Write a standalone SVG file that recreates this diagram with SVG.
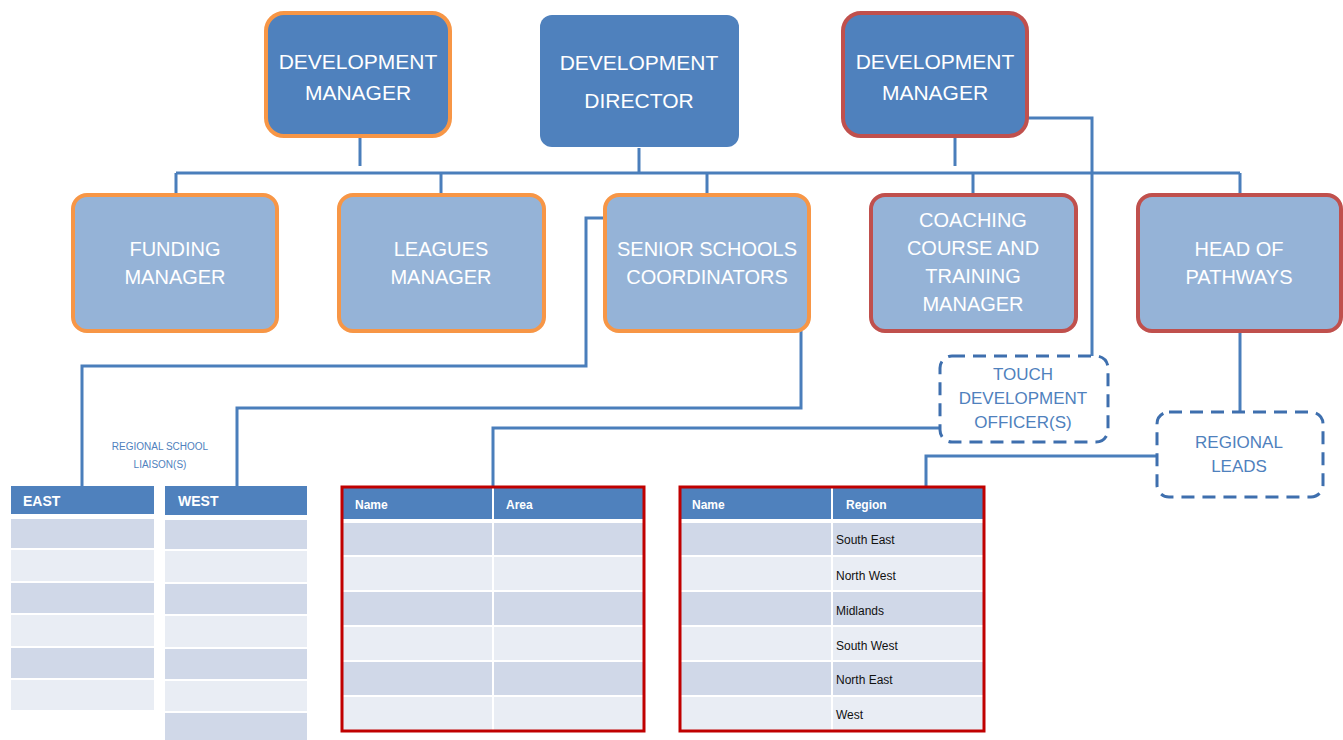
<svg xmlns="http://www.w3.org/2000/svg" width="1343" height="740" viewBox="0 0 1343 740">
<style>
.top{fill:#4f81bd}
.mid{fill:#95b3d7}
.ob{stroke:#f79646;stroke-width:4}
.rb{stroke:#c0504d;stroke-width:4}
.wt{fill:#fff;font-family:"Liberation Sans",Arial,sans-serif;text-anchor:middle}
.t1{font-size:21px}
.t2{font-size:20px}
.dash{fill:#fff;stroke:#3e6fae;stroke-width:3;stroke-dasharray:13 8}
.bt{fill:#4f81bd;font-family:"Liberation Sans",Arial,sans-serif;text-anchor:middle;font-size:17px}
.conn{fill:none;stroke:#4a7ebb;stroke-width:3}
.hd{fill:#4f81bd}
.rd{fill:#d0d8e8}
.rl{fill:#e9edf4}
.ht{fill:#fff;font-family:"Liberation Sans",Arial,sans-serif;font-weight:bold;font-size:12px}
.ht2{fill:#fff;font-family:"Liberation Sans",Arial,sans-serif;font-weight:bold;font-size:14px}
.ct{fill:#111;font-family:"Liberation Sans",Arial,sans-serif;font-size:12px}
.frame{fill:none;stroke:#c00000;stroke-width:3}
</style>
<g id="connectors" class="conn">
<path d="M176 173H1240"/>
<path d="M360 138V166"/>
<path d="M639 148V173"/>
<path d="M955 138V166"/>
<path d="M176 173V195M441 173V195M707 173V195M973 173V195M1240 173V195"/>
<path d="M1027 118H1092V356"/>
<path d="M605 218H586V366H82V486"/>
<path d="M801 331V408H237V486"/>
<path d="M940 428H493V487"/>
<path d="M1240 331V412"/>
<path d="M1157 456H926V487"/>
</g>
<g id="dev-manager-left">
<rect x="266" y="13" width="184" height="123" rx="18" class="top ob"/>
<text class="wt t1" x="358" y="69">DEVELOPMENT</text>
<text class="wt t1" x="358" y="100">MANAGER</text>
</g>
<g id="dev-director">
<rect x="540" y="15" width="199" height="132" rx="12" class="top"/>
<text class="wt t1" x="639" y="70">DEVELOPMENT</text>
<text class="wt t1" x="639" y="108">DIRECTOR</text>
</g>
<g id="dev-manager-right">
<rect x="843" y="13" width="184" height="123" rx="18" class="top rb"/>
<text class="wt t1" x="935" y="69">DEVELOPMENT</text>
<text class="wt t1" x="935" y="100">MANAGER</text>
</g>
<g id="funding-manager">
<rect x="73" y="195" width="204" height="136" rx="14" class="mid ob"/>
<text class="wt t2" x="175" y="256">FUNDING</text>
<text class="wt t2" x="175" y="284">MANAGER</text>
</g>
<g id="leagues-manager">
<rect x="339" y="195" width="205" height="136" rx="14" class="mid ob"/>
<text class="wt t2" x="441" y="256">LEAGUES</text>
<text class="wt t2" x="441" y="284">MANAGER</text>
</g>
<g id="senior-schools">
<rect x="605" y="195" width="204" height="136" rx="14" class="mid ob"/>
<text class="wt t2" x="707" y="256">SENIOR SCHOOLS</text>
<text class="wt t2" x="707" y="284">COORDINATORS</text>
</g>
<g id="coaching">
<rect x="871" y="195" width="205" height="136" rx="14" class="mid rb"/>
<text class="wt t2" x="973" y="227">COACHING</text>
<text class="wt t2" x="973" y="255">COURSE AND</text>
<text class="wt t2" x="973" y="283">TRAINING</text>
<text class="wt t2" x="973" y="311">MANAGER</text>
</g>
<g id="head-of-pathways">
<rect x="1138" y="195" width="203" height="136" rx="14" class="mid rb"/>
<text class="wt t2" x="1239" y="256">HEAD OF</text>
<text class="wt t2" x="1239" y="284">PATHWAYS</text>
</g>
<g id="touch-officers">
<rect x="940" y="356" width="168" height="86" rx="12" class="dash"/>
<text class="bt" x="1023" y="380">TOUCH</text>
<text class="bt" x="1023" y="404">DEVELOPMENT</text>
<text class="bt" x="1023" y="428">OFFICER(S)</text>
</g>
<g id="regional-leads">
<rect x="1157" y="412" width="166" height="85" rx="12" class="dash"/>
<text class="bt" x="1239" y="448">REGIONAL</text>
<text class="bt" x="1239" y="472">LEADS</text>
</g>
<g id="regional-school-liaison">
<text x="160" y="450" font-family="'Liberation Sans',Arial,sans-serif" font-size="10" fill="#4f81bd" text-anchor="middle">REGIONAL SCHOOL</text>
<text x="160" y="468" font-family="'Liberation Sans',Arial,sans-serif" font-size="10" fill="#4f81bd" text-anchor="middle">LIAISON(S)</text>
</g>
<g id="east-table">
<rect x="11" y="486" width="143" height="28" class="hd"/>
<text class="ht2" x="23" y="506">EAST</text>
<rect x="11" y="519" width="143" height="29" class="rd"/>
<rect x="11" y="550" width="143" height="31" class="rl"/>
<rect x="11" y="583" width="143" height="30" class="rd"/>
<rect x="11" y="615" width="143" height="31" class="rl"/>
<rect x="11" y="648" width="143" height="30" class="rd"/>
<rect x="11" y="680" width="143" height="30" class="rl"/>
</g>
<g id="west-table">
<rect x="165" y="486" width="142" height="29" class="hd"/>
<text class="ht2" x="178" y="506">WEST</text>
<rect x="165" y="520" width="142" height="29" class="rd"/>
<rect x="165" y="551" width="142" height="31" class="rl"/>
<rect x="165" y="584" width="142" height="30" class="rd"/>
<rect x="165" y="616" width="142" height="31" class="rl"/>
<rect x="165" y="649" width="142" height="30" class="rd"/>
<rect x="165" y="681" width="142" height="30" class="rl"/>
<rect x="165" y="713" width="142" height="27" class="rd"/>
</g>
<g id="area-table">
<rect x="342" y="488" width="302" height="242" fill="#fff"/>
<rect x="342" y="488" width="302" height="31" class="hd"/>
<rect x="342" y="523" width="302" height="32" class="rd"/>
<rect x="342" y="557" width="302" height="33" class="rl"/>
<rect x="342" y="592" width="302" height="33" class="rd"/>
<rect x="342" y="627" width="302" height="33" class="rl"/>
<rect x="342" y="662" width="302" height="33" class="rd"/>
<rect x="342" y="697" width="302" height="33" class="rl"/>
<path d="M493 488V730" stroke="#fff" stroke-width="2"/>
<text class="ht" x="355" y="509">Name</text>
<text class="ht" x="506" y="509">Area</text>
<rect x="342" y="487" width="302" height="244" class="frame"/>
</g>
<g id="region-table">
<rect x="680" y="488" width="304" height="242" fill="#fff"/>
<rect x="680" y="488" width="304" height="31" class="hd"/>
<rect x="680" y="523" width="304" height="32" class="rd"/>
<rect x="680" y="557" width="304" height="33" class="rl"/>
<rect x="680" y="592" width="304" height="33" class="rd"/>
<rect x="680" y="627" width="304" height="33" class="rl"/>
<rect x="680" y="662" width="304" height="33" class="rd"/>
<rect x="680" y="697" width="304" height="33" class="rl"/>
<path d="M832 488V730" stroke="#fff" stroke-width="2"/>
<text class="ht" x="692" y="509">Name</text>
<text class="ht" x="846" y="509">Region</text>
<text class="ct" x="836" y="544">South East</text>
<text class="ct" x="836" y="580">North West</text>
<text class="ct" x="836" y="615">Midlands</text>
<text class="ct" x="836" y="650">South West</text>
<text class="ct" x="836" y="684">North East</text>
<text class="ct" x="836" y="719">West</text>
<rect x="680" y="487" width="304" height="244" class="frame"/>
</g>
</svg>
